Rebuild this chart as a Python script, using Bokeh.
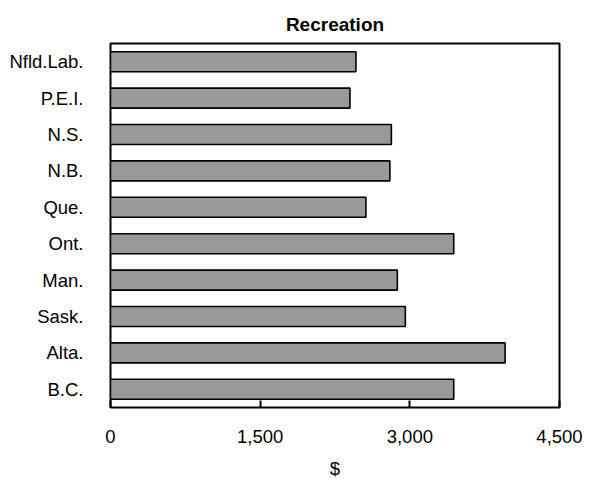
from bokeh.plotting import figure
from bokeh.models import FactorRange, Range1d, FixedTicker, NumeralTickFormatter
from bokeh.embed import file_html
from bokeh.resources import INLINE

provinces = ["Nfld.Lab.", "P.E.I.", "N.S.", "N.B.", "Que.", "Ont.", "Man.", "Sask.", "Alta.", "B.C."]
spending = [2460, 2400, 2815, 2800, 2560, 3440, 2875, 2955, 3955, 3440]
x_ticks = [0, 1500, 3000, 4500]

FONT = "Liberation Sans"

p = figure(
    y_range=FactorRange(factors=list(reversed(provinces)), range_padding=0),
    x_range=Range1d(0, 4500),
    frame_width=449, frame_height=364,
    min_border_left=110, min_border_right=26, min_border_top=43, min_border_bottom=60,
    output_backend="svg", toolbar_location=None, title="Recreation",
)

p.hbar(y=provinces, right=spending, left=0, height=0.55,
       fill_color="#999999", line_color="black", line_width=1.6)

p.title.text_font = FONT
p.title.text_font_size = "19px"
p.title.text_font_style = "bold"
p.title.align = "center"
p.title.text_color = "black"
p.title.standoff = 18

p.outline_line_color = "black"
p.outline_line_width = 2
p.outline_line_alpha = 1
p.xgrid.visible = False
p.ygrid.visible = False

xa = p.xaxis[0]
xa.ticker = FixedTicker(ticks=x_ticks)
xa.formatter = NumeralTickFormatter(format="0,0")
xa.axis_line_color = None
xa.major_tick_in = 7
xa.major_tick_out = 0
xa.major_tick_line_color = "black"
xa.major_tick_line_width = 2
xa.minor_tick_line_color = None
xa.major_label_text_font = FONT
xa.major_label_text_font_size = "18.5px"
xa.major_label_text_color = "black"
xa.major_label_standoff = 22
xa.axis_label = "$"
xa.axis_label_text_font = FONT
xa.axis_label_text_font_size = "18.5px"
xa.axis_label_text_font_style = "normal"
xa.axis_label_text_color = "black"
xa.axis_label_standoff = 12

ya = p.yaxis[0]
ya.axis_line_color = None
ya.major_tick_line_color = None
ya.minor_tick_line_color = None
ya.major_tick_in = 0
ya.major_tick_out = 0
ya.major_label_text_font = FONT
ya.major_label_text_font_size = "18.5px"
ya.major_label_text_color = "black"
ya.major_label_standoff = 27

open("out.html", "w").write(file_html(p, INLINE))
